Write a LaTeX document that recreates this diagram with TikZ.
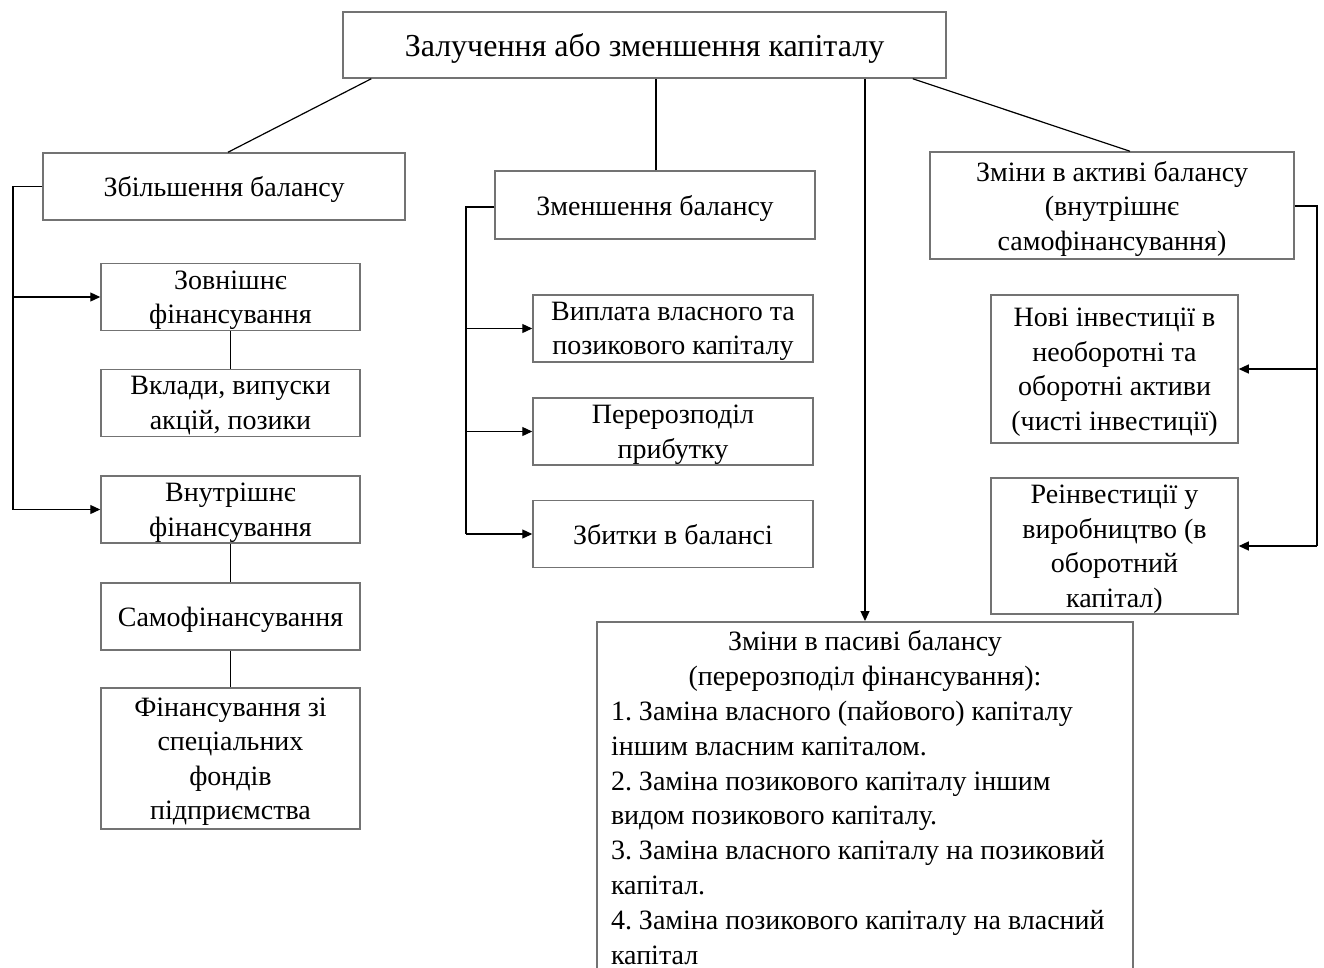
\documentclass[tikz,border=0pt]{standalone}
\usepackage{fontspec}
\setmainfont{Liberation Serif}
\usetikzlibrary{arrows.meta,calc}
\begin{document}
\frenchspacing
\begin{tikzpicture}[x=1pt,y=-1pt,
  box/.style={draw=black!55, line width=1.5pt, inner sep=0pt, align=center,
    font=\fontsize{28}{34.5}\selectfont, text=black, text depth=0pt},
  lbox/.style={box, minimum width=259pt, minimum height=67pt},
  mbox/.style={box, minimum width=280pt, minimum height=67pt},
  rbox/.style={box, minimum width=247pt},
  conn/.style={line width=1.2pt, draw=black},
  arr/.style={conn, -{Triangle[length=10pt,width=9pt]}},
]
\clip (0,0) rectangle (1324,967);
\fill[white] (0,0) rectangle (1324,967);

% top
\node[box, minimum width=603pt, minimum height=66pt, font=\fontsize{32}{38}\selectfont] (top) at (644.5,45) {Залучення або зменшення капіталу};

% left column
\node[box, minimum width=362pt, minimum height=67pt] (inc) at (224,186.5) {Збільшення балансу};
\node[lbox] (ext) at (230.5,297) {Зовнішнє\\фінансування};
\node[lbox] (vkl) at (230.5,403) {Вклади, випуски\\акцій, позики};
\node[lbox] (int) at (230.5,509.5) {Внутрішнє\\фінансування};
\node[lbox] (samo) at (230.5,616.5) {Самофінансування};
\node[lbox, minimum height=141pt] (fund) at (230.5,758.5) {Фінансування зі\\спеціальних\\фондів\\підприємства};

% middle column
\node[box, minimum width=320pt, minimum height=68pt] (dec) at (655,205) {Зменшення балансу};
\node[mbox] (pay) at (673,328.5) {Виплата власного та\\позикового капіталу};
\node[mbox] (red) at (673,431.5) {Перерозподіл\\прибутку};
\node[mbox] (loss) at (673,534) {Збитки в балансі};

% right column
\node[box, minimum width=364pt, minimum height=107pt] (act) at (1112,205.5) {Зміни в активі балансу\\(внутрішнє\\самофінансування)};
\node[rbox, minimum height=148pt] (newinv) at (1114.5,369) {Нові інвестиції в\\необоротні та\\оборотні активи\\(чисті інвестиції)};
\node[rbox, minimum height=136pt] (reinv) at (1114.5,546) {Реінвестиції у\\виробництво (в\\оборотний\\капітал)};

% bottom box (its lower edge lies below the picture)
\node[box, anchor=north, text width=508pt, align=flush left, inner xsep=14pt, inner ysep=9pt,
  text depth=, font=\fontsize{28}{34.8}\selectfont] (pas) at (865,621)
{\makebox[508pt]{Зміни в пасиві балансу}\\
\makebox[508pt]{(перерозподіл фінансування):}\\
1. Заміна власного (пайового) капіталу\\
іншим власним капіталом.\\
2. Заміна позикового капіталу іншим\\
видом позикового капіталу.\\
3. Заміна власного капіталу на позиковий\\
капітал.\\
4. Заміна позикового капіталу на власний\\
капітал\\
\strut};

% connectors from top
\draw[conn] ([xshift=29pt]top.south west) -- ([xshift=4pt]inc.north);
\draw[conn] (dec.north) ++(1pt,0) coordinate (dn) -- (dn |- top.south);
\draw[arr] (pas.north |- top.south) -- (pas.north);
\draw[conn] ([xshift=-34pt]top.south east) -- ([xshift=18pt]act.north);

% left spine
\coordinate (sL) at (13,186.5);
\draw[conn] (inc.west) -- (sL) -- (sL |- int.west);
\draw[arr] (sL |- ext.west) -- (ext.west);
\draw[arr] (sL |- int.west) -- (int.west);
\draw[conn] (ext.south) -- (vkl.north);
\draw[conn] (int.south) -- (samo.north);
\draw[conn] (samo.south) -- (fund.north);

% middle spine
\coordinate (sM) at (466,207);
\draw[conn] (dec.west |- sM) -- (sM) -- (sM |- loss.west);
\draw[arr] (sM |- pay.west) -- (pay.west);
\draw[arr] (sM |- red.west) -- (red.west);
\draw[arr] (sM |- loss.west) -- (loss.west);

% right spine
\coordinate (sR) at (1317,206);
\draw[conn] (act.east |- sR) -- (sR) -- (sR |- reinv.east);
\draw[arr] (sR |- newinv.east) -- (newinv.east);
\draw[arr] (sR |- reinv.east) -- (reinv.east);
\end{tikzpicture}
\end{document}
